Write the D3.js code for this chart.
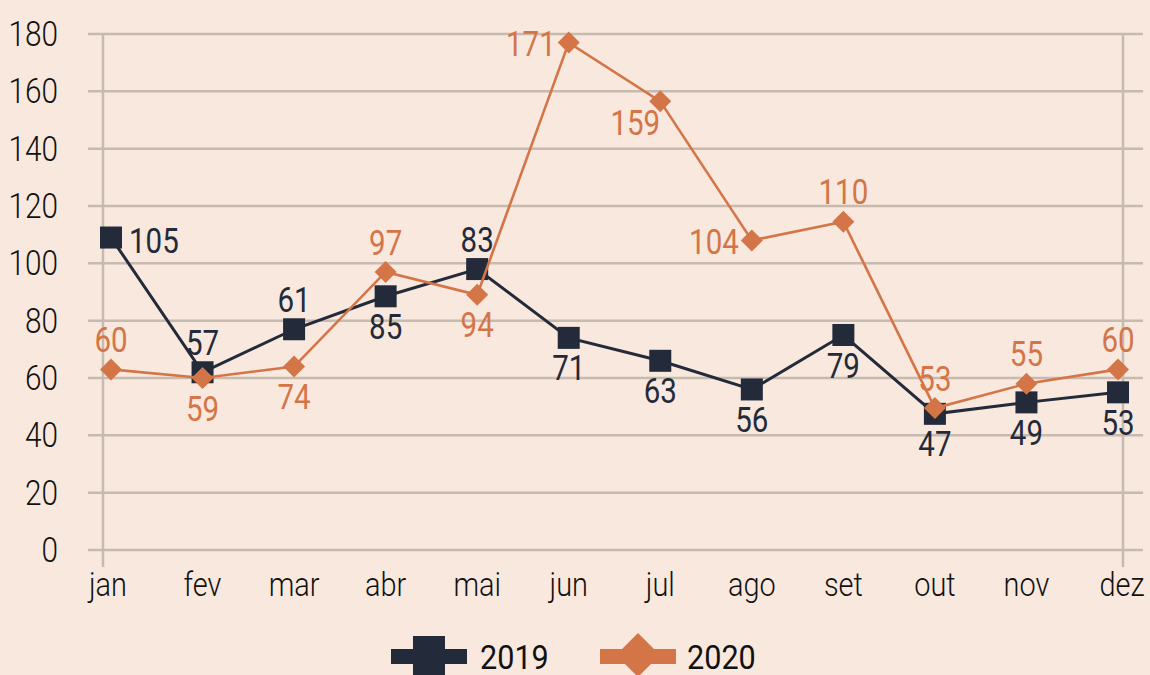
<!DOCTYPE html>
<html><head><meta charset="utf-8">
<script src="https://cdn.jsdelivr.net/npm/d3@7"></script>
<style>
html,body{margin:0;padding:0;background:#f8e8dd;}
svg{display:block;}
text{font-family:Roboto,"DejaVu Sans",sans-serif;}
</style></head>
<body>
<svg id="c" width="1150" height="675"></svg>
<script>
const months = ["jan","fev","mar","abr","mai","jun","jul","ago","set","out","nov","dez"];
const yTicks = [0,20,40,60,80,100,120,140,160,180];
// plotted positions (as drawn in the picture)
const s2019 = [109,62,77,88.5,98,74,66,56,75,47.5,51.5,55];
const s2020 = [63,60,64,97,89,177,156.5,108,114.5,49.5,58,63];
// data labels as printed
const lab2019 = [105,57,61,85,83,71,63,56,79,47,49,53];
const lab2020 = [60,59,74,97,94,171,159,104,110,53,55,60];
// label placement: r=right, t=top, b=bottom, l=left, bl=bottom-left
const pos2019 = ["r","t","t","b","t","b","b","b","b","b","b","b"];
const pos2020 = ["t","b","b","t","b","l","bl","l","t","t","t","t"];

const NAVY="#232a3a", ORANGE="#d47548", GRID="#c6bab1";
const svg = d3.select("#c");
const x = d3.scalePoint().domain(months).range([111,1118]);
const y = d3.scaleLinear().domain([0,180]).range([550,34]);

function txt(g, xx, yy, str, opts){
  const sx = opts.sx||0.82;
  return g.append("text")
    .attr("transform",`translate(${xx},${yy}) scale(${sx},1)`)
    .attr("text-anchor",opts.anchor||"middle")
    .attr("dominant-baseline","central")
    .attr("font-size",opts.size||34)
    .attr("font-weight",opts.weight||400)
    .attr("fill",opts.fill||"#111")
    .text(str);
}

// grid
svg.append("g").selectAll("line").data(yTicks).join("line")
  .attr("x1",88).attr("x2",1143).attr("y1",d=>y(d)).attr("y2",d=>y(d))
  .attr("stroke",GRID).attr("stroke-width",2.5);
[103,1123].forEach(v=>svg.append("line").attr("x1",v).attr("x2",v).attr("y1",y(180)).attr("y2",567)
  .attr("stroke",GRID).attr("stroke-width",2.5));

// tick labels
const tg = svg.append("g");
yTicks.forEach(t=>txt(tg,58,y(t),String(t),{anchor:"end",size:35,weight:300,sx:0.85,fill:"#111"}));
const mg = svg.append("g");
months.forEach((m,i)=>txt(mg,x(m)+(i===0?-3:(i===11?4:0)),585,m,{size:34,weight:300,sx:0.85,fill:"#111"}));

// lines
const line = d3.line().x((d,i)=>x(months[i])).y(d=>y(d));
svg.append("path").datum(s2019).attr("d",line).attr("fill","none").attr("stroke",NAVY).attr("stroke-width",3);
svg.selectAll(".sq").data(s2019).join("rect").attr("class","sq")
  .attr("x",(d,i)=>x(months[i])-11).attr("y",d=>y(d)-11).attr("width",22).attr("height",22).attr("fill",NAVY);
svg.append("path").datum(s2020).attr("d",line).attr("fill","none").attr("stroke",ORANGE).attr("stroke-width",2.6);
svg.selectAll(".dm").data(s2020).join("path").attr("class","dm")
  .attr("d",(d,i)=>{const cx=x(months[i]),cy=y(d),r=11;return `M${cx},${cy-r}L${cx+r},${cy}L${cx},${cy+r}L${cx-r},${cy}Z`;})
  .attr("fill",ORANGE);

// labels
function place(p, cx, cy){
  switch(p){
    case "r": return [cx+18,cy+3,"start"];
    case "l": return [cx-13,cy+1,"end"];
    case "t": return [cx,cy-30,"middle"];
    case "b": return [cx,cy+30,"middle"];
    case "bl": return [cx-25,cy+21,"middle"];
  }
}
const lg = svg.append("g");
lab2019.forEach((v,i)=>{const [px,py,a]=place(pos2019[i],x(months[i]),y(s2019[i]));txt(lg,px,py,String(v),{anchor:a,size:36,fill:NAVY});});
lab2020.forEach((v,i)=>{const [px,py,a]=place(pos2020[i],x(months[i]),y(s2020[i]));txt(lg,px,py,String(v),{anchor:a,size:36,fill:ORANGE});});

// legend
const leg = svg.append("g");
leg.append("rect").attr("x",391).attr("y",649).attr("width",76).attr("height",15).attr("fill",NAVY);
leg.append("rect").attr("x",413).attr("y",636).attr("width",32).attr("height",40).attr("fill",NAVY);
txt(leg,480,657,"2019",{anchor:"start",size:34,weight:400,sx:0.9,fill:"#111"});
leg.append("rect").attr("x",600).attr("y",649).attr("width",76).attr("height",15).attr("fill",ORANGE);
leg.append("path").attr("d","M638,633L660,655L638,677L616,655Z").attr("fill",ORANGE);
txt(leg,687,657,"2020",{anchor:"start",size:34,weight:400,sx:0.9,fill:"#111"});
</script>
</body></html>
